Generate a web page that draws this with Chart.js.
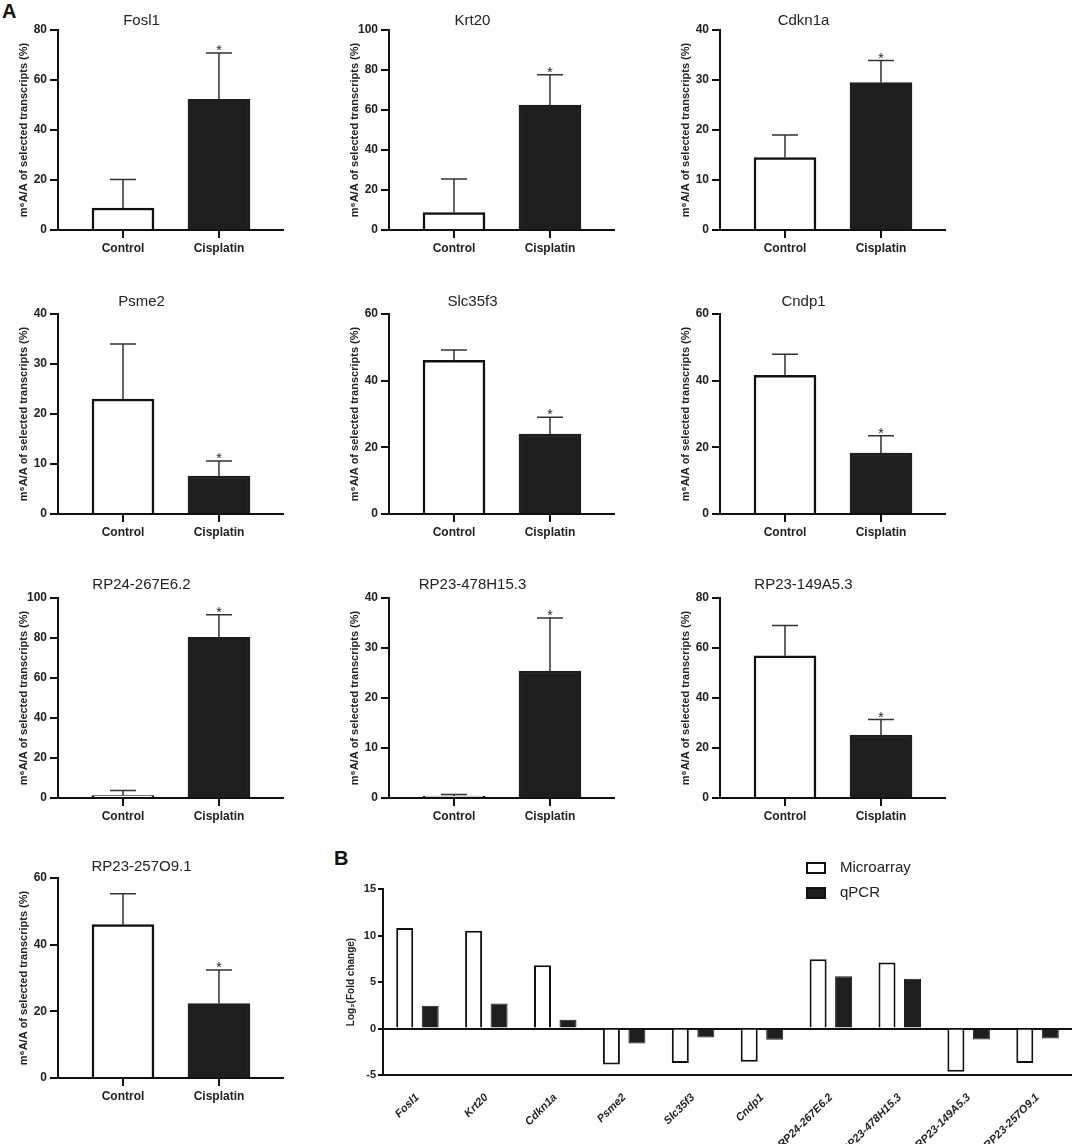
<!DOCTYPE html>
<html>
<head>
<meta charset="utf-8">
<script src="https://cdn.jsdelivr.net/npm/chart.js@4.4.1/dist/chart.umd.min.js"></script>
<style>
    body { margin: 0; background: #fff; width: 1072px; height: 1144px; position: relative; overflow: hidden; font-family: "Liberation Sans", Arial, sans-serif; }
    canvas { position: absolute; }
    .letter { position: absolute; font-weight: bold; font-size: 20px; line-height: 20px; color: #111; }
</style>
</head>
<body>
<div class="letter" style="left:2px;top:1px">A</div>
<div class="letter" style="left:334px;top:848px">B</div>
<script>
// panel A: m6A/A of selected transcripts (%), mean and upper SD
const genes = ['Fosl1', 'Krt20', 'Cdkn1a', 'Psme2', 'Slc35f3', 'Cndp1', 'RP24-267E6.2', 'RP23-478H15.3', 'RP23-149A5.3', 'RP23-257O9.1'];
const groups = ['Control', 'Cisplatin'];
const controlMean = [8.8, 8.7, 14.5, 23.0, 46.1, 41.6, 1.2, 0.4, 56.9, 46.0];
const controlSD = [11.4, 16.8, 4.5, 11.0, 3.1, 6.3, 2.5, 0.3, 12.1, 9.3];
const cisplatinMean = [52.3, 62.4, 29.5, 7.6, 24.0, 18.3, 80.3, 25.4, 25.2, 22.3];
const cisplatinSD = [18.5, 15.2, 4.4, 3.0, 5.0, 5.2, 11.3, 10.6, 6.2, 10.1];
const yMax = [80, 100, 40, 40, 60, 60, 100, 40, 80, 60];
const yStep = [20, 20, 10, 10, 20, 20, 20, 10, 20, 20];

// panel B: log2 fold change
const microarray = [10.8, 10.5, 6.8, -3.87, -3.7, -3.58, 7.45, 7.1, -4.66, -3.7];
const qpcr = [2.44, 2.69, 0.93, -1.6, -0.97, -1.2, 5.63, 5.34, -1.18, -1.08];

Chart.defaults.font.family = "'Liberation Sans', Arial, sans-serif";
Chart.defaults.color = '#222';
Chart.defaults.animation = false;

// error bars (upper only) + significance star
const errorBars = {
    id: 'errorBars',
    afterDatasetsDraw: function (chart) {
        const ctx = chart.ctx;
        const y = chart.scales.y;
        const ds = chart.data.datasets[0];
        ctx.save();
        ctx.strokeStyle = '#333';
        ctx.lineWidth = 1.5;
        chart.getDatasetMeta(0).data.forEach(function (bar, j) {
            const val = ds.data[j].y;
            const top = y.getPixelForValue(val + ds.sd[j]);
            ctx.beginPath();
            ctx.moveTo(bar.x, y.getPixelForValue(val));
            ctx.lineTo(bar.x, top);
            ctx.moveTo(bar.x - 13, top);
            ctx.lineTo(bar.x + 13, top);
            ctx.stroke();
            if (ds.star[j]) {
                ctx.fillStyle = '#222';
                ctx.font = "14px 'Liberation Sans', Arial, sans-serif";
                ctx.textAlign = 'center';
                ctx.fillText('*', bar.x, top + 2);
            }
        });
        ctx.restore();
    }
};

const colX = [58, 389, 720];
const rowTop = [30, 314, 598, 878];
const titlePad = [{ top: 12, bottom: 0 }, { top: 9, bottom: 3 }, { top: 8, bottom: 4 }, { top: 10, bottom: 2 }];

genes.forEach(function (gene, i) {
    var row = Math.floor(i / 3);
    var cv = document.createElement('canvas');
    cv.width = 293;
    cv.height = 260;
    cv.style.left = (colX[i % 3] - 58) + 'px';
    cv.style.top = (rowTop[row] - 30) + 'px';
    document.body.appendChild(cv);

    new Chart(cv.getContext('2d'), {
        type: 'bar',
        data: {
            datasets: [{
                data: [{ x: 1, y: controlMean[i] }, { x: 2, y: cisplatinMean[i] }],
                sd: [controlSD[i], cisplatinSD[i]],
                star: [false, true],
                backgroundColor: ['#ffffff', '#1e1e1e'],
                borderColor: ['#111', '#1e1e1e'],
                borderWidth: 2.5,
                barThickness: 62
            }]
        },
        options: {
            responsive: false,
            layout: { padding: { left: 0, right: 10, top: 0, bottom: 0 } },
            plugins: {
                legend: { display: false },
                tooltip: { enabled: false },
                title: {
                    display: true,
                    text: gene,
                    color: '#222',
                    font: { size: 15, weight: 'normal' },
                    padding: titlePad[row]
                }
            },
            scales: {
                x: {
                    type: 'linear',
                    offset: false,
                    min: 0.323,
                    max: 2.667,
                    afterBuildTicks: function (s) { s.ticks = [{ value: 1 }, { value: 2 }]; },
                    afterFit: function (s) { s.height = 30; },
                    ticks: {
                        callback: function (v) { return groups[Math.round(v) - 1]; },
                        font: { size: 12, weight: 'bold' },
                        padding: 3
                    },
                    grid: { offset: false, drawOnChartArea: false, drawTicks: true, tickLength: 8, color: '#111', lineWidth: 2 },
                    border: { display: true, color: '#111', width: 2 }
                },
                y: {
                    min: 0,
                    max: yMax[i],
                    afterFit: function (s) { s.width = 58; },
                    ticks: { stepSize: yStep[i], font: { size: 12, weight: 'bold' }, padding: 3 },
                    grid: { drawOnChartArea: false, drawTicks: true, tickLength: 8, color: '#111', lineWidth: 2 },
                    border: { display: true, color: '#111', width: 2 },
                    title: {
                        display: true,
                        text: 'm\u2076A/A of selected transcripts (%)',
                        font: { size: 11, weight: 'bold' },
                        padding: { top: 17, bottom: 0 }
                    }
                }
            }
        },
        plugins: [errorBars]
    });
});

// legend for panel B, drawn in the space above the plot
const legendBoxes = {
    id: 'legendBoxes',
    afterDraw: function (chart) {
        const ctx = chart.ctx;
        ctx.save();
        ctx.font = "15px 'Liberation Sans', Arial, sans-serif";
        ctx.textBaseline = 'middle';
        chart.data.datasets.forEach(function (ds, k) {
            var cy = 18 + k * 25;
            ctx.fillStyle = ds.backgroundColor;
            ctx.fillRect(468, cy - 6, 20, 12);
            ctx.strokeStyle = '#111';
            ctx.lineWidth = 2;
            ctx.strokeRect(469, cy - 5, 18, 10);
            ctx.fillStyle = '#222';
            ctx.fillText(ds.label, 502, cy);
        });
        ctx.restore();
    }
};

var cvB = document.createElement('canvas');
cvB.width = 734;
cvB.height = 294;
cvB.style.left = '338px';
cvB.style.top = '850px';
document.body.appendChild(cvB);

new Chart(cvB.getContext('2d'), {
    type: 'bar',
    data: {
        labels: genes,
        datasets: [
            { label: 'Microarray', data: microarray, backgroundColor: '#ffffff', borderColor: '#111', borderWidth: 2 },
            { label: 'qPCR', data: qpcr, backgroundColor: '#1e1e1e', borderColor: '#1e1e1e', borderWidth: 1 }
        ]
    },
    options: {
        responsive: false,
        layout: { padding: { top: 39, right: 0, left: 0, bottom: 0 } },
        datasets: { bar: { categoryPercentage: 0.74, barPercentage: 0.667 } },
        plugins: { legend: { display: false }, tooltip: { enabled: false } },
        scales: {
            x: {
                afterFit: function (s) { s.height = 69; },
                grid: { display: false },
                border: { display: true, color: '#111', width: 2 },
                ticks: {
                    autoSkip: false,
                    minRotation: 45,
                    maxRotation: 45,
                    padding: 8,
                    font: { size: 11, style: 'italic', weight: 'bold' }
                }
            },
            y: {
                min: -5,
                max: 15,
                afterFit: function (s) { s.width = 45; },
                ticks: { stepSize: 5, font: { size: 11, weight: 'bold' }, padding: 2 },
                grid: {
                    drawOnChartArea: true,
                    color: function (c) { return c.tick && c.tick.value === 0 ? '#111' : 'rgba(0,0,0,0)'; },
                    lineWidth: 2,
                    tickLength: 5,
                    tickColor: '#111',
                    tickWidth: 2
                },
                border: { display: true, color: '#111', width: 2 },
                title: {
                    display: true,
                    text: 'Log\u2082(Fold change)',
                    font: { size: 10, weight: 'bold' },
                    padding: { top: 7, bottom: 0 }
                }
            }
        }
    },
    plugins: [legendBoxes]
});
</script>
</body>
</html>
